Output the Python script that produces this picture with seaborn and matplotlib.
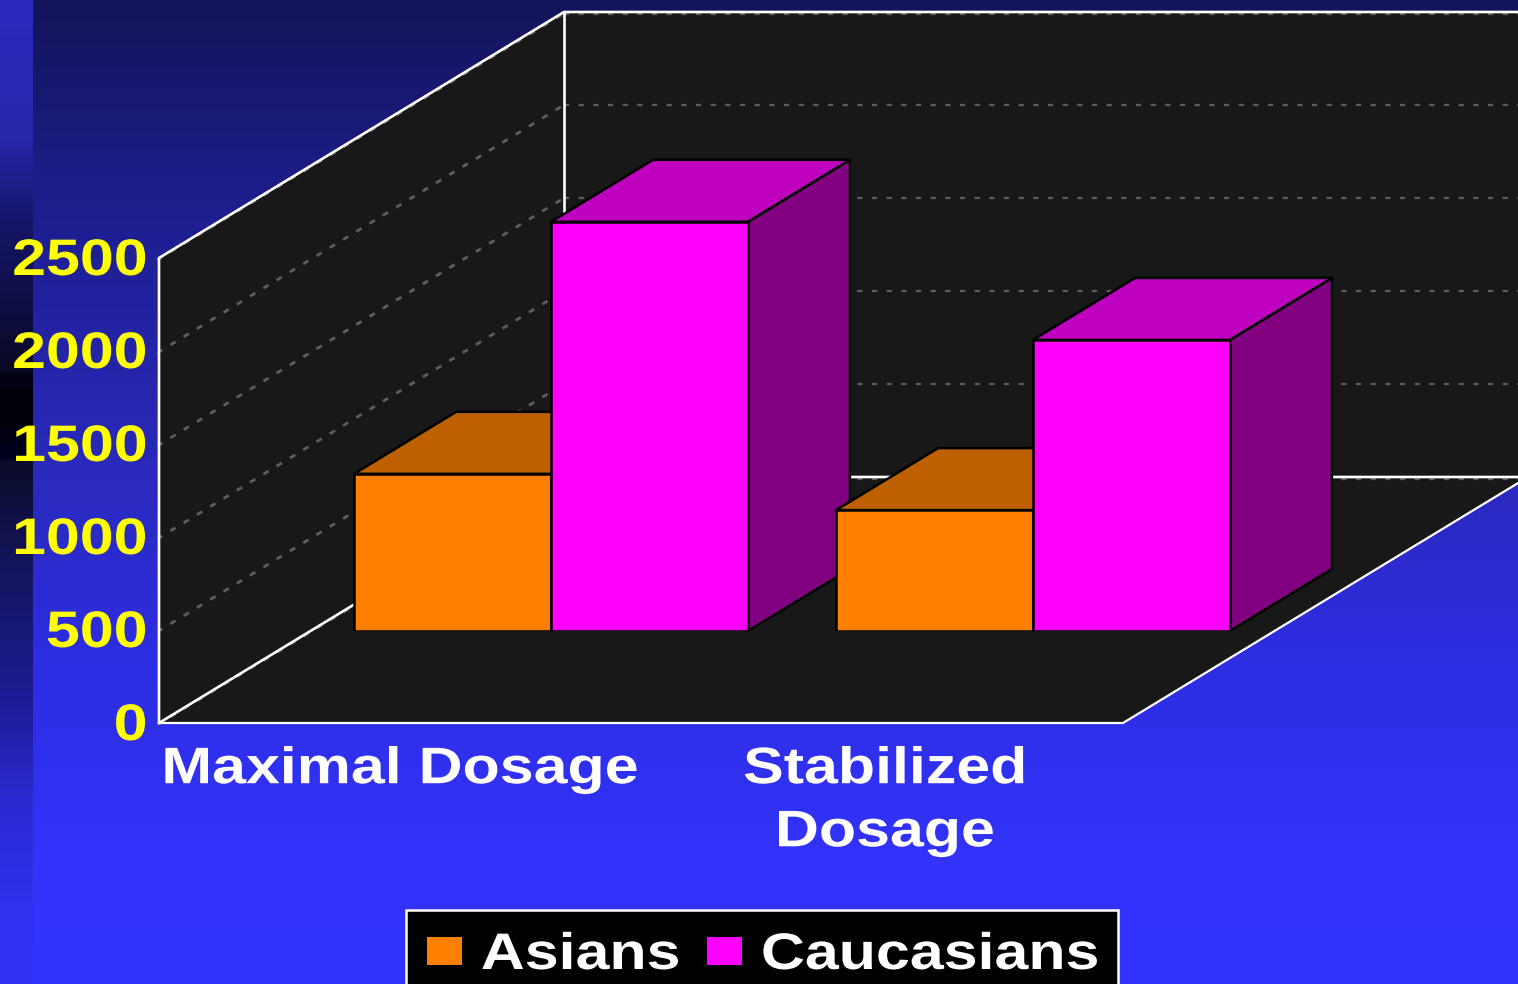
import numpy as np
import pandas as pd
import seaborn as sns
import matplotlib
matplotlib.use("Agg")
import matplotlib.pyplot as plt
from matplotlib.patches import Patch, Polygon, Rectangle
from matplotlib.patheffects import AbstractPathEffect
from matplotlib.transforms import Affine2D, IdentityTransform

# Chart values
categories = ["Maximal Dosage", "Stabilized\nDosage"]
asians = [845, 650]
caucasians = [2200, 1565]
value_ticks = [0, 500, 1000, 1500, 2000, 2500]
series_names = ["Asians", "Caucasians"]

W, H = 1518, 984
FONT = "Liberation Sans"
FONT_PT = 37
WIDEN = 1.185

ORANGE = "#ff8000"
MAGENTA = "#ff00ff"
SHADES = {ORANGE: ("#bf6000", "#804000"), MAGENTA: ("#bf00bf", "#800080")}
WALL = "#181818"
GRID = "#5e5e5e"

sns.set_theme(style="white")
plt.rcParams["font.family"] = [FONT, "DejaVu Sans"]
plt.rcParams["font.weight"] = "bold"


class Widen(AbstractPathEffect):
    """Stretch glyphs horizontally around a fraction of each text line's width."""

    def __init__(self, factor, anchor=0.0, move=(0, 0)):
        super().__init__()
        self.factor = factor
        self.anchor = anchor
        self.move = move

    def draw_path(self, renderer, gc, tpath, affine, rgbFace=None):
        box = tpath.get_extents(affine)
        cx = box.x0 + self.anchor * box.width
        stretched = affine + (Affine2D().translate(-cx, 0).scale(self.factor, 1)
                              .translate(cx + self.move[0], self.move[1]))
        renderer.draw_path(gc, tpath, stretched, rgbFace)


def axes_px(fig, left, right, top, bottom):
    """Axes placed by pixel edges, measured from the top-left of the figure."""
    return fig.add_axes([left / W, 1 - bottom / H, (right - left) / W, (bottom - top) / H])


def ramp(stops, n):
    ys, cols = zip(*stops)
    cols = np.array(cols, float)
    return np.stack([np.interp(np.arange(n), ys, cols[:, i]) for i in range(3)], axis=1) / 255


fig = plt.figure(figsize=(W / 100, H / 100), dpi=100)

# Slide background: a vertical blue ramp with a narrower band down the left edge
main_ramp = ramp([(0, (20, 20, 90)), (220, (30, 30, 145)), (480, (42, 42, 190)),
                  (650, (45, 45, 225)), (850, (50, 50, 250)), (984, (51, 51, 255))], H)
edge_ramp = ramp([(0, (42, 42, 190)), (140, (38, 38, 170)), (220, (22, 22, 105)),
                  (300, (14, 14, 70)), (370, (10, 10, 35)), (376, (0, 0, 20)),
                  (408, (0, 0, 5)), (456, (0, 0, 30)), (462, (10, 12, 40)),
                  (560, (20, 20, 90)), (700, (28, 28, 150)), (800, (42, 42, 210)),
                  (900, (48, 48, 238)), (984, (50, 50, 245))], H)
backdrop = np.repeat(main_ramp[:, None, :], W, axis=1)
backdrop[:, :33, :] = edge_ramp[:, None, :]
ax_bg = fig.add_axes([0, 0, 1, 1], zorder=0)
ax_bg.imshow(backdrop, extent=(0, W, H, 0), aspect="auto", interpolation="nearest")
ax_bg.set_axis_off()

# Front plane of the chart box carries the value scale and category labels
ax_front = axes_px(fig, 159, 1123, 258, 723)
ax_front.set_zorder(1)
ax_front.patch.set_alpha(0)
ax_front.set_xlim(-0.5, 1.5)
ax_front.set_ylim(0, 2500)
sns.despine(ax=ax_front, left=True, bottom=True)
ax_front.set_yticks(value_ticks)
ax_front.set_yticklabels([str(v) for v in value_ticks])
ax_front.set_xticks(range(len(categories)))
ax_front.set_xticklabels(categories, linespacing=1.37)
ax_front.tick_params(axis="both", length=0, labelsize=FONT_PT)
ax_front.tick_params(axis="y", labelcolor="#ffff00", pad=8.5)
ax_front.tick_params(axis="x", labelcolor="white", pad=16)
for lab in ax_front.get_yticklabels():
    lab.set_fontweight("bold")
    lab.set_path_effects([Widen(WIDEN, 1.0, (0, 2))])
x_labels = ax_front.get_xticklabels()
for lab, move in zip(x_labels, [(0, 0), (3, 0)]):
    lab.set_fontweight("bold")
    lab.set_path_effects([Widen(WIDEN, 0.5, move)])

# Oblique depth of the box, in display pixels
DEPTH = np.array([405.0, 246.0])


def box_pt(x, value, depth=0.0):
    return ax_front.transData.transform((x, value)) + depth * DEPTH


def flat(points, **kw):
    return Polygon(points, closed=True, transform=IdentityTransform(), clip_on=False, **kw)


x0, x1 = ax_front.get_xlim()
vmin, vmax = ax_front.get_ylim()
ax_front.add_patch(flat([box_pt(x0, vmin), box_pt(x0, vmax), box_pt(x0, vmax, 1), box_pt(x0, vmin, 1)],
                        facecolor=WALL, edgecolor="none", zorder=1))
ax_front.add_patch(flat([box_pt(x0, vmin, 1), box_pt(x0, vmax, 1), box_pt(x1, vmax, 1), box_pt(x1, vmin, 1)],
                        facecolor=WALL, edgecolor="none", zorder=1))
ax_front.add_patch(flat([box_pt(x0, vmin), box_pt(x1, vmin), box_pt(x1, vmin, 1), box_pt(x0, vmin, 1)],
                        facecolor=WALL, edgecolor="none", zorder=1))


def px_line(points, **kw):
    pts = np.array(points)
    ax_front.plot(pts[:, 0], pts[:, 1], transform=IdentityTransform(), clip_on=False, **kw)


# Dashed gridlines run along the side wall and across the back wall
for v in value_ticks:
    drop = np.array([0, -1.5]) if v in (vmin, vmax) else np.array([0, 0])
    px_line([box_pt(x0 - 0.004, v) + [0, -2], box_pt(x0, v, 1) + drop],
            color=GRID, lw=2.0, ls=(0, (2.2, 3.4)), dash_capstyle="butt", zorder=2)
    px_line([box_pt(x0, v, 1) + drop, box_pt(x1, v, 1) + drop],
            color=GRID, lw=1.6, ls=(0, (2.3, 4.3)), dash_capstyle="butt", zorder=2)

# White outline of the box
thin = dict(color="white", lw=1.6, zorder=3, solid_capstyle="round")
bold = dict(color="white", lw=1.9, zorder=3, solid_capstyle="round")
px_line([box_pt(x0, vmin), box_pt(x1, vmin), box_pt(x1, vmin, 1)], **thin)
px_line([box_pt(x1, vmin, 1), box_pt(x0, vmin, 1), box_pt(x0, vmin)], **bold)
px_line([box_pt(x0, vmin), box_pt(x0, vmax), box_pt(x0, vmax, 1), box_pt(x1, vmax, 1)], **bold)
px_line([box_pt(x0, vmin, 1), box_pt(x0, vmax, 1)], **bold)

# Bars stand part-way into the box on their own plane
BAR_PLANE = 92 / 246
BAR_DEPTH = 62 / 246
shift = BAR_PLANE * DEPTH
ax_bars = axes_px(fig, 158.5 + shift[0], 1122.5 + shift[0], 258 - shift[1], 723 - shift[1])
ax_bars.set_zorder(2)
ax_bars.patch.set_alpha(0)

table = pd.DataFrame({
    "category": categories * 2,
    "series": [series_names[0]] * 2 + [series_names[1]] * 2,
    "value": asians + caucasians,
})
sns.barplot(data=table, x="category", y="value", hue="series", hue_order=series_names,
            palette=[ORANGE, MAGENTA], width=0.817, gap=0, dodge=True, saturation=1,
            edgecolor="black", linewidth=1.8, legend=False, ax=ax_bars)
ax_bars.set_xlim(-0.5, 1.5)
ax_bars.set_ylim(0, 2500)
ax_bars.set_axis_off()

# Top and side faces come from each bar's own extent
offset = BAR_DEPTH * DEPTH
for h, (container, colour) in enumerate(zip(ax_bars.containers, [ORANGE, MAGENTA])):
    top_col, side_col = SHADES[colour]
    for c, bar in enumerate(container):
        order = 2 + 3 * (2 * c + h)
        (l, b), (r, t) = ax_bars.transData.transform(
            [(bar.get_x(), 0), (bar.get_x() + bar.get_width(), bar.get_height())])
        face = dict(edgecolor="black", linewidth=1.8, joinstyle="round")
        ax_bars.add_patch(flat([(r, b), (r, t), (r + offset[0], t + offset[1]), (r + offset[0], b + offset[1])],
                               facecolor=side_col, zorder=order, **face))
        ax_bars.add_patch(flat([(l, t), (r, t), (r + offset[0], t + offset[1]), (l + offset[0], t + offset[1])],
                               facecolor=top_col, zorder=order + 1, **face))
        bar.set_zorder(order + 2)

# Legend sits on a black panel that runs off the bottom of the slide
ax_bg.add_patch(Rectangle((406, 910), 712, 90, facecolor="black", edgecolor="white", linewidth=1.8, zorder=5))
handles = [Patch(facecolor=ORANGE, edgecolor="none"), Patch(facecolor=MAGENTA, edgecolor="none")]
px = FONT_PT * 100 / 72
legend = fig.legend(handles, series_names, ncol=2, frameon=False,
                    loc="lower left", bbox_to_anchor=(427 / W, 1 - 980 / H),
                    borderpad=0, borderaxespad=0,
                    handlelength=35 / px, handleheight=0.461,
                    handletextpad=19 / px, columnspacing=1.12,
                    prop={"family": FONT, "weight": "bold", "size": FONT_PT})
legend.set_zorder(10)
for text in legend.get_texts():
    text.set_color("white")
    text.set_path_effects([Widen(WIDEN, 0.0)])

fig.savefig("out.png", dpi=100)
